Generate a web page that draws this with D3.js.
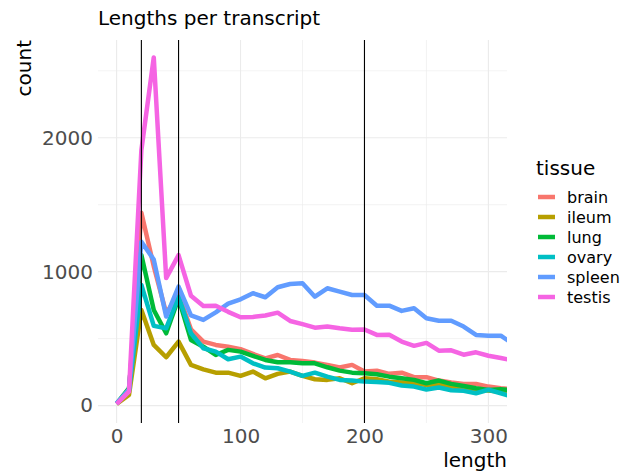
<!DOCTYPE html>
<html>
<head>
<meta charset="utf-8">
<script src="https://cdn.jsdelivr.net/npm/d3@7"></script>
<style>
  html, body { margin: 0; padding: 0; background: #fff; }
  svg { display: block; font-family: "DejaVu Sans", sans-serif; }
</style>
</head>
<body>
<svg id="chart" width="638" height="475"></svg>
<script>
// ---- data ----
const lengths = [0,10,20,30,40,50,60,70,80,90,100,110,120,130,140,150,160,170,180,190,200,210,220,230,240,250,260,270,280,290,300,310,320];
const tissues = ["brain","ileum","lung","ovary","spleen","testis"];
const brain  = [15,100,1440,1040,690,830,570,478,453,440,421,386,353,378,341,333,321,304,284,304,254,261,237,246,212,212,187,172,162,162,142,130,122];
const ileum  = [12,80,714,453,361,478,304,271,246,246,222,254,204,237,254,222,197,192,204,167,204,197,179,172,167,154,159,142,137,117,112,104,100];
const lung   = [15,130,1125,714,540,801,490,440,378,416,403,371,341,324,324,316,316,286,261,246,242,234,216,204,192,167,187,162,147,130,117,122,115];
const ovary  = [15,110,901,595,577,814,540,428,403,346,366,316,284,279,254,222,246,216,192,187,179,176,170,150,142,120,135,115,110,92,118,92,65];
const spleen = [15,120,1224,1090,665,888,673,640,696,762,794,839,809,884,908,913,813,876,851,826,826,746,746,707,727,652,634,634,590,528,522,522,460];
const testis = [12,104,1908,2600,952,1124,820,744,745,700,660,662,673,694,632,608,582,591,577,566,568,528,529,478,446,468,410,413,380,398,372,355,338];
const seriesValues = [brain, ileum, lung, ovary, spleen, testis];
const vlines = [20, 50, 200];
const xTicks = [0, 100, 200, 300];
const xMinor = [50, 150, 250];
const yTicks = [0, 1000, 2000];
const yMinor = [500, 1500, 2500];
const colors = ["#F8766D","#B79F00","#00BA38","#00BFC4","#619CFF","#F564E3"];

// ---- layout ----
const svg = d3.select("#chart");
const panel = {left: 98, right: 507, top: 40, bottom: 423};
const x = d3.scaleLinear().domain([-15, 315]).range([panel.left, panel.right]);
const y = d3.scaleLinear().domain([-130, 2730]).range([panel.bottom, panel.top]);

// grid
const grid = svg.append("g");
grid.selectAll(".xminor").data(xMinor).join("line")
  .attr("x1", d => x(d)).attr("x2", d => x(d))
  .attr("y1", panel.top).attr("y2", panel.bottom)
  .attr("stroke", "#EBEBEB").attr("stroke-width", 0.6);
grid.selectAll(".yminor").data(yMinor).join("line")
  .attr("y1", d => y(d)).attr("y2", d => y(d))
  .attr("x1", panel.left).attr("x2", panel.right)
  .attr("stroke", "#EBEBEB").attr("stroke-width", 0.6);
grid.selectAll(".xmajor").data(xTicks).join("line")
  .attr("x1", d => x(d)).attr("x2", d => x(d))
  .attr("y1", panel.top).attr("y2", panel.bottom)
  .attr("stroke", "#EBEBEB").attr("stroke-width", 1.1);
grid.selectAll(".ymajor").data(yTicks).join("line")
  .attr("y1", d => y(d)).attr("y2", d => y(d))
  .attr("x1", panel.left).attr("x2", panel.right)
  .attr("stroke", "#EBEBEB").attr("stroke-width", 1.1);

// clip
svg.append("clipPath").attr("id", "clip").append("rect")
  .attr("x", panel.left).attr("y", panel.top)
  .attr("width", panel.right - panel.left).attr("height", panel.bottom - panel.top);

const line = d3.line().x((d, i) => x(lengths[i])).y(d => y(d));
const plot = svg.append("g").attr("clip-path", "url(#clip)");
plot.selectAll(".series").data(seriesValues).join("path")
  .attr("d", d => line(d))
  .attr("fill", "none")
  .attr("stroke", (d, i) => colors[i])
  .attr("stroke-width", 4.5)
  .attr("stroke-linejoin", "round");

plot.selectAll(".vline").data(vlines).join("line")
  .attr("x1", d => x(d)).attr("x2", d => x(d))
  .attr("y1", panel.top).attr("y2", panel.bottom)
  .attr("stroke", "#000").attr("stroke-width", 1.1);

// axes (text only, like theme_minimal)
const xAxis = d3.axisBottom(x).tickValues(xTicks).tickFormat(d3.format("d")).tickSize(0).tickPadding(6);
const gx = svg.append("g").attr("transform", `translate(0,${panel.bottom})`).call(xAxis);
gx.select(".domain").remove();
gx.selectAll("text").attr("font-size", 20).attr("fill", "#4D4D4D").attr("font-family", "DejaVu Sans");

const yAxis = d3.axisLeft(y).tickValues(yTicks).tickFormat(d3.format("d")).tickSize(0).tickPadding(5);
const gy = svg.append("g").attr("transform", `translate(${panel.left},0)`).call(yAxis);
gy.select(".domain").remove();
gy.selectAll("text").attr("font-size", 20).attr("fill", "#4D4D4D").attr("font-family", "DejaVu Sans");

// titles
svg.append("text").attr("x", panel.left).attr("y", 25)
  .attr("font-size", 20).attr("fill", "#000").text("Lengths per transcript");
svg.append("text").attr("x", panel.right).attr("y", 467)
  .attr("text-anchor", "end").attr("font-size", 20).attr("fill", "#000").text("length");
svg.append("text").attr("transform", `translate(31,${panel.top}) rotate(-90)`)
  .attr("text-anchor", "end").attr("font-size", 20).attr("fill", "#000").text("count");

// legend
const lg = svg.append("g");
lg.append("text").attr("x", 536).attr("y", 175).attr("font-size", 20).attr("fill", "#000").text("tissue");
const items = lg.selectAll(".item").data(tissues).join("g")
  .attr("transform", (d, i) => `translate(0,${197 + i * 20})`);
items.append("line").attr("x1", 538).attr("x2", 555).attr("y1", 0).attr("y2", 0)
  .attr("stroke", (d, i) => colors[i]).attr("stroke-width", 4.5);
items.append("text").attr("x", 567).attr("y", 0).attr("dy", "0.36em")
  .attr("font-size", 16).attr("fill", "#000").text(d => d);
</script>
</body>
</html>
